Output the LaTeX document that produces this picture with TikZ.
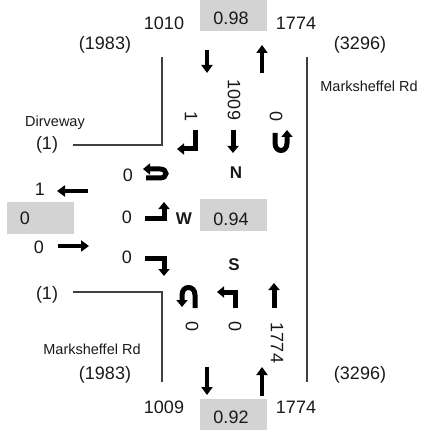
\documentclass[tikz,border=0pt]{standalone}
\usepackage{fontspec}
\setmainfont{Liberation Sans}
\usetikzlibrary{arrows.meta}
\definecolor{boxgrey}{RGB}{211,211,211}
\definecolor{roadline}{RGB}{64,64,64}
\definecolor{txt}{RGB}{25,25,25}
\tikzset{
  num/.style={inner sep=0pt, text=txt, font=\fontsize{18}{20}\selectfont},
  lbl/.style={inner sep=0pt, text=txt, font=\fontsize{14.5}{16}\selectfont},
  dir/.style={inner sep=0pt, text=txt, font=\fontsize{17}{19}\selectfont\bfseries},
  vnum/.style={num, rotate=-90},
  greybox/.style={fill=boxgrey, draw=none},
  road/.style={draw=roadline, line width=1.5pt},
  arr/.style={draw=black, line width=4.5pt, line join=miter,
    -{Triangle[width=11pt,length=8pt]}},
  tarr/.style={draw=black, line width=5pt, line join=miter,
    -{Triangle[width=11pt,length=7pt]}}
}
\begin{document}
\begin{tikzpicture}[x=1pt,y=-1pt]
\useasboundingbox (0,0) rectangle (422,430);
% grey boxes
\fill[greybox] (200,0) rectangle (267,31);
\fill[greybox] (200,199) rectangle (267,231);
\fill[greybox] (7,202) rectangle (74,234);
\fill[greybox] (200,399) rectangle (267,430);
% road lines
\coordinate (dwE) at (73,145); \coordinate (dwC) at (162,145); \coordinate (dwN) at (162,57);
\coordinate (swW) at (73,292); \coordinate (swC) at (162,292); \coordinate (swS) at (162,382);
\coordinate (eN) at (307,57); \coordinate (eS) at (307,382);
\draw[road] (dwE) -- (dwC) -- (dwN);
\draw[road] (swW) -- (swC) -- (swS);
\draw[road] (eN) -- (eS);
% top texts
\node[num] (t1010) at (164,23) {1010};
\node[num] (t098) at (231,18) {0.98};
\node[num] (t1774) at (296,23) {1774};
\node[num] (tl1983) at (105,45) {(1983)};
\node[num] (tr3296) at (360,45) {(3296)};
\node[lbl] (mrN) at (369,86) {Marksheffel Rd};
\node[lbl] (dway) at (55,123) {Dirveway};
\node[num] (dw1) at (47,145) {(1)};
% SB labels
\node[vnum] (sbT) at (234,100) {1009};
\node[vnum] (sbR) at (191,117) {1};
\node[vnum] (sbU) at (276,117) {0};
\node[dir] (N) at (236,173) {N};
% EB / WB
\node[num] (ebU) at (128,175) {0};
\node[num] (wb1) at (40,189) {1};
\node[num] (wb0) at (25,218) {0};
\node[num] (ebL) at (127,217) {0};
\node[dir] (W) at (184,219) {W};
\node[num] (t094) at (231,219) {0.94};
\node[num] (ebT) at (39,247) {0};
\node[num] (ebR) at (127,257) {0};
\node[dir] (S) at (234,265) {S};
% bottom
\node[num] (sw1) at (47,295) {(1)};
\node[vnum] (nbU) at (192,327) {0};
\node[vnum] (nbL) at (235,327) {0};
\node[vnum] (nbT) at (277,343) {1774};
\node[lbl] (mrS) at (92,349) {Marksheffel Rd};
\node[num] (bl1983) at (105,375) {(1983)};
\node[num] (br3296) at (360,375) {(3296)};
\node[num] (b1009) at (164,407) {1009};
\node[num] (b1774) at (296,407) {1774};
\node[num] (t092) at (231,417) {0.92};
% approach arrows
\draw[arr] (207,50) -- (207,73);
\draw[arr] (262,73) -- (262,45);
\draw[arr] (207,367) -- (207,395);
\draw[arr] (262,396) -- (262,367);
\draw[arr] (88,191) -- (57,191);
\draw[arr] (58,246) -- (89,246);
% SB turn arrows
\draw[tarr] (195,130) -- (195,149) -- (177,149);
\draw[tarr] (233,130) -- (233,153);
\draw[tarr] (275,133) -- (275,143) .. controls (275,153) and (287,153) .. (287,143) -- (287,130);
% EB turn arrows
\draw[tarr] (146,178) -- (160,178) .. controls (168,178) and (168,169) .. (160,169) -- (143,169);
\draw[tarr] (145,218) -- (164,218) -- (164,202);
\draw[tarr] (145,258) -- (164,258) -- (164,276);
% NB turn arrows
\draw[tarr] (195,308) -- (195,295) .. controls (195,285) and (182,285) .. (182,295) -- (182,307);
\draw[tarr] (235,308) -- (235,292) -- (217,292);
\draw[tarr] (274,308) -- (274,283);
\end{tikzpicture}
\end{document}
